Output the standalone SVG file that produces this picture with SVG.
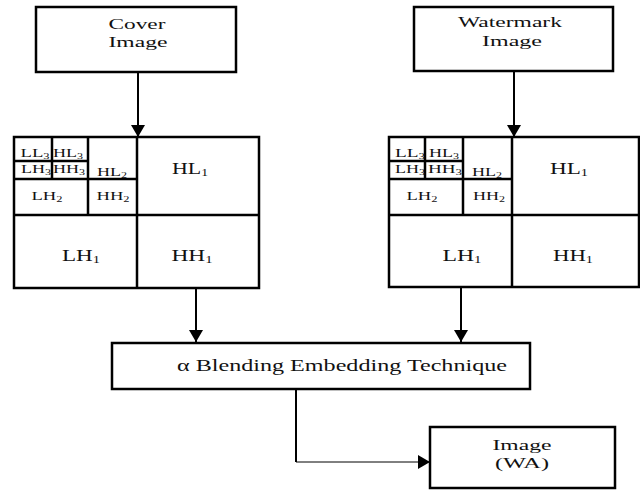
<svg xmlns="http://www.w3.org/2000/svg" width="640" height="490" viewBox="0 0 640 490">
<defs>
<style>
.box{fill:#fff;stroke:#000;stroke-width:2.5}
.gl{stroke:#000;stroke-width:2.5;fill:none}
.t{font-family:"Liberation Serif","Times New Roman",serif;fill:#111;font-size:15px}
.s{font-family:"Liberation Serif","Times New Roman",serif;fill:#111;font-size:12px}
.m{font-family:"Liberation Serif","Times New Roman",serif;fill:#111;font-size:16px}
.sub{font-size:8px}
.sub2{font-size:10px}
.c{stroke:#000;stroke-width:2;fill:none}
.c1{stroke:#000;stroke-width:1;fill:none}
</style>
<marker id="ah" viewBox="0 0 12 14" refX="12" refY="7" markerWidth="12" markerHeight="14" markerUnits="userSpaceOnUse" orient="auto">
<path d="M0,0 L12,7 L0,14 z" fill="#000"/>
</marker>
</defs>
<rect width="640" height="490" fill="#fff"/>

<g id="cover">
<rect class="box" x="36" y="7" width="200" height="65"/>
<text class="t" x="137" y="29" text-anchor="middle" textLength="57" lengthAdjust="spacingAndGlyphs">Cover</text>
<text class="t" x="138" y="47" text-anchor="middle" textLength="59" lengthAdjust="spacingAndGlyphs">Image</text>
</g>

<g id="watermark">
<rect class="box" x="414" y="7" width="199" height="64"/>
<text class="t" x="510" y="27" text-anchor="middle" textLength="104" lengthAdjust="spacingAndGlyphs">Watermark</text>
<text class="t" x="512" y="46" text-anchor="middle" textLength="60" lengthAdjust="spacingAndGlyphs">Image</text>
</g>

<g id="dwt-cover">
<rect class="gl" x="14" y="137" width="245" height="151"/>
<path class="gl" d="M52,137 V179 M88,137 V215 M137,137 V288 M14,161 H88 M14,179 H137 M14,215 H259"/>
<text class="s" x="35" y="157" text-anchor="middle" textLength="29" lengthAdjust="spacingAndGlyphs">LL<tspan class="sub" dy="2">3</tspan></text>
<text class="s" x="68" y="157" text-anchor="middle" textLength="30" lengthAdjust="spacingAndGlyphs">HL<tspan class="sub" dy="2">3</tspan></text>
<text class="s" x="36" y="173" text-anchor="middle" textLength="30" lengthAdjust="spacingAndGlyphs">LH<tspan class="sub" dy="2">3</tspan></text>
<text class="s" x="69" y="173" text-anchor="middle" textLength="32" lengthAdjust="spacingAndGlyphs">HH<tspan class="sub" dy="2">3</tspan></text>
<text class="s" x="112" y="176" text-anchor="middle" textLength="30" lengthAdjust="spacingAndGlyphs">HL<tspan class="sub" dy="2">2</tspan></text>
<text class="s" x="47" y="200" text-anchor="middle" textLength="31" lengthAdjust="spacingAndGlyphs">LH<tspan class="sub" dy="2">2</tspan></text>
<text class="s" x="113" y="200" text-anchor="middle" textLength="33" lengthAdjust="spacingAndGlyphs">HH<tspan class="sub" dy="2">2</tspan></text>
<text class="m" x="190" y="174" text-anchor="middle" textLength="36" lengthAdjust="spacingAndGlyphs">HL<tspan class="sub2" dy="2">1</tspan></text>
<text class="m" x="81" y="261" text-anchor="middle" textLength="38" lengthAdjust="spacingAndGlyphs">LH<tspan class="sub2" dy="2">1</tspan></text>
<text class="m" x="192" y="261" text-anchor="middle" textLength="41" lengthAdjust="spacingAndGlyphs">HH<tspan class="sub2" dy="2">1</tspan></text>
</g>

<g id="dwt-watermark">
<rect class="gl" x="389" y="137" width="250" height="150"/>
<path class="gl" d="M425,137 V179 M463,137 V215 M512,137 V287 M389,161 H463 M389,179 H512 M389,215 H639"/>
<text class="s" x="410" y="157" text-anchor="middle" textLength="30" lengthAdjust="spacingAndGlyphs">LL<tspan class="sub" dy="2">3</tspan></text>
<text class="s" x="444" y="157" text-anchor="middle" textLength="30" lengthAdjust="spacingAndGlyphs">HL<tspan class="sub" dy="2">3</tspan></text>
<text class="s" x="410" y="173" text-anchor="middle" textLength="30" lengthAdjust="spacingAndGlyphs">LH<tspan class="sub" dy="2">3</tspan></text>
<text class="s" x="445" y="173" text-anchor="middle" textLength="34" lengthAdjust="spacingAndGlyphs">HH<tspan class="sub" dy="2">3</tspan></text>
<text class="s" x="487" y="176" text-anchor="middle" textLength="30" lengthAdjust="spacingAndGlyphs">HL<tspan class="sub" dy="2">2</tspan></text>
<text class="s" x="422" y="200" text-anchor="middle" textLength="31" lengthAdjust="spacingAndGlyphs">LH<tspan class="sub" dy="2">2</tspan></text>
<text class="s" x="489" y="200" text-anchor="middle" textLength="32" lengthAdjust="spacingAndGlyphs">HH<tspan class="sub" dy="2">2</tspan></text>
<text class="m" x="569" y="174" text-anchor="middle" textLength="38" lengthAdjust="spacingAndGlyphs">HL<tspan class="sub2" dy="2">1</tspan></text>
<text class="m" x="462" y="261" text-anchor="middle" textLength="39" lengthAdjust="spacingAndGlyphs">LH<tspan class="sub2" dy="2">1</tspan></text>
<text class="m" x="573" y="261" text-anchor="middle" textLength="40" lengthAdjust="spacingAndGlyphs">HH<tspan class="sub2" dy="2">1</tspan></text>
</g>

<g id="blending">
<rect class="box" x="112" y="343" width="418" height="46"/>
<text class="m" x="177" y="371" textLength="330" lengthAdjust="spacingAndGlyphs">α Blending Embedding Technique</text>
</g>

<g id="output">
<rect class="box" x="430" y="427" width="185" height="61"/>
<text class="t" x="522" y="450" text-anchor="middle" textLength="59" lengthAdjust="spacingAndGlyphs">Image</text>
<text class="t" x="522" y="468" text-anchor="middle" textLength="54" lengthAdjust="spacingAndGlyphs">(WA)</text>
</g>

<g id="connectors">
<path class="c" d="M138,72 V137" marker-end="url(#ah)"/>
<path class="c" d="M514,71 V137" marker-end="url(#ah)"/>
<path class="c" d="M196,288 V342" marker-end="url(#ah)"/>
<path class="c" d="M461,287 V342" marker-end="url(#ah)"/>
<path class="c" d="M296,389 V462"/>
<path class="c1" d="M296,462 H430" marker-end="url(#ah)"/>
</g>
</svg>
